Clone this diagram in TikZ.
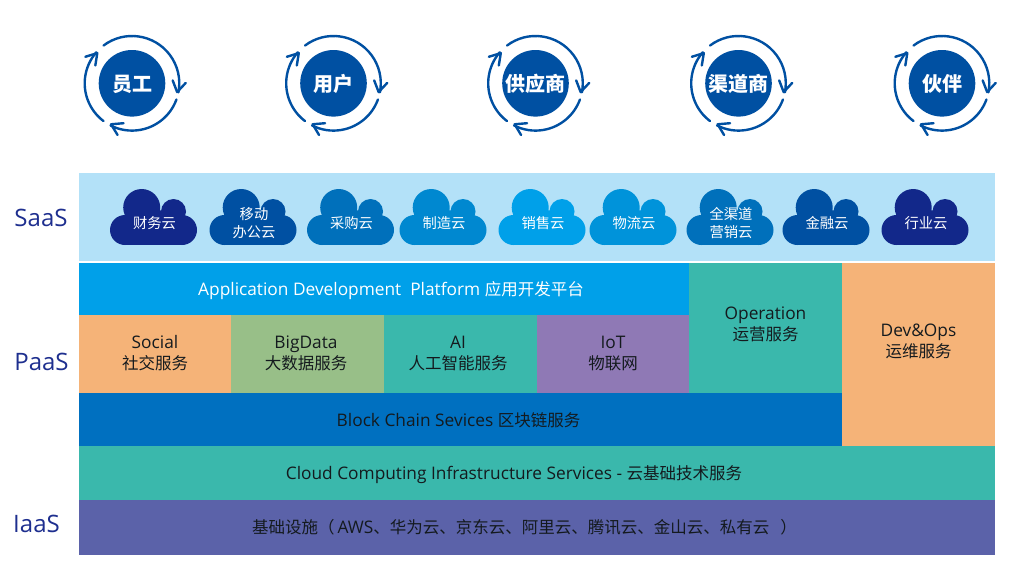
\documentclass[tikz,border=0pt]{standalone}
\usepackage{fontspec}
\setmainfont{Open Sans}
\newfontfamily\cjk{Noto Sans CJK SC}
\usetikzlibrary{calc}
\definecolor{cSky}{HTML}{B3E1F8}
\definecolor{cBright}{HTML}{00A0E9}
\definecolor{cOrange}{HTML}{F5B378}
\definecolor{cGreen}{HTML}{98BF88}
\definecolor{cTeal}{HTML}{3AB8AC}
\definecolor{cPurple}{HTML}{8F79B5}
\definecolor{cBlock}{HTML}{0070C0}
\definecolor{cIndigo}{HTML}{5B62A9}
\definecolor{cNavy}{HTML}{12288A}
\definecolor{cDeep}{HTML}{0050A2}
\definecolor{cMid}{HTML}{0070BB}
\definecolor{cLight}{HTML}{0088D0}
\definecolor{cLightB}{HTML}{0093DA}
\definecolor{cLabel}{HTML}{1E2F8F}
\definecolor{cInk}{HTML}{141A1E}
\tikzset{
  bandtext/.style={font=\fontsize{17.3}{21}\selectfont,text=cInk,align=center,inner sep=0pt},
  layerlabel/.style={font=\fontsize{24}{28}\selectfont,text=cLabel,inner sep=0pt},
  cloudtext/.style={font=\cjk\fontsize{14.3}{17.5}\selectfont,text=white,align=center,inner sep=0pt},
  hub/.style={circle,fill=cDeep,minimum size=66.6pt,inner sep=0pt},
  hubtext/.style={inner sep=0pt,text=white,font=\cjk\bfseries\fontsize{20}{22}\selectfont},
  cyc/.style={draw=cDeep,line width=2.4pt,line cap=round,line join=round}
}
\newcommand{\Z}[1]{{\cjk\fontsize{16.5}{21}\selectfont #1}}
\newcommand{\barb}[2]{%
  \draw[cyc] ($(#1)+(#2:46)+(#2+90+32:12.5)$) -- ($(#1)+(#2:46)$) -- ($(#1)+(#2:46)+(#2+90-32:12.5)$);
}
\newcommand{\hubcycle}[4]{%
  \node[hub] (#1) at (#2,-#3) {};
  \node[hubtext] (#1t) at (#2,-#3-0.7) {#4};
  \draw[cyc] ($(#1)+(127:47.3)$) arc[start angle=127,end angle=-11,radius=47.3];
  \barb{#1}{-11}
  \draw[cyc] ($(#1)+(-20:47.3)$) arc[start angle=-20,end angle=-117,radius=47.3];
  \barb{#1}{-117}
  \draw[cyc] ($(#1)+(233:47.3)$) arc[start angle=233,end angle=139,radius=47.3];
  \barb{#1}{139}
}
\newcommand{\cloudshape}[4]{%
  \begin{scope}[shift={(#2,-245)},fill=#1]
    \fill (-28.5,15) circle[radius=15];
    \fill (28.5,15) circle[radius=15];
    \fill (-11.8,37.5) circle[radius=18.5];
    \fill (20,33.5) circle[radius=12.5];
    \fill (-28.5,0) rectangle (28.5,30);
    \fill (-28,29) -- (-11.8,37) -- (20,33) -- (31,26) -- (28,15) -- (-28,15) -- cycle;
  \end{scope}
  \node[cloudtext] (#3) at (#2+1,-223) {#4};
}
\begin{document}
\begin{tikzpicture}[x=1pt,y=1pt]
\useasboundingbox (0,0) rectangle (1011,-587);
\fill[white] (0,0) rectangle (1011,-587);

\hubcycle{hubA}{132}{83.3}{员工}
\hubcycle{hubB}{333.5}{83.3}{用户}
\hubcycle{hubC}{535.5}{83.3}{供应商}
\hubcycle{hubD}{738.5}{83.3}{渠道商}
\hubcycle{hubE}{942}{83.3}{伙伴}

\fill[cSky] (79,-173) rectangle (995,-261);
\cloudshape{cNavy}{153.5}{cloudA}{财务云}
\cloudshape{cDeep}{253}{cloudB}{移动\\办公云}
\cloudshape{cMid}{350.5}{cloudC}{采购云}
\cloudshape{cLight}{443}{cloudD}{制造云}
\cloudshape{cBright}{542}{cloudE}{销售云}
\cloudshape{cLightB}{633}{cloudF}{物流云}
\cloudshape{cMid}{730}{cloudG}{全渠道\\营销云}
\cloudshape{cDeep}{826}{cloudH}{金融云}
\cloudshape{cNavy}{925}{cloudI}{行业云}

\fill[cBright] (79,-263) rectangle (689.3,-315);
\fill[cOrange] (79,-315) rectangle (231,-392.5);
\fill[cGreen] (231,-315) rectangle (384,-392.5);
\fill[cTeal] (384,-315) rectangle (536.7,-392.5);
\fill[cPurple] (536.7,-315) rectangle (689.3,-392.5);
\fill[cTeal] (689.3,-263) rectangle (842,-392.5);
\fill[cOrange] (842,-263) rectangle (995,-446);
\fill[cBlock] (79,-392.5) rectangle (842,-446);
\fill[cTeal] (79,-446) rectangle (995,-500);
\fill[cIndigo] (79,-500) rectangle (995,-555);

\node[layerlabel] (saas) at (41,-218) {SaaS};
\node[layerlabel] (paas) at (41.5,-361.5) {PaaS};
\node[layerlabel] (iaas) at (36.5,-524) {IaaS};

\node[bandtext,text=white] (app) at (391,-291) {Application Development\ \ Platform \Z{应用开发平台}};
\node[bandtext] (social) at (155,-353) {Social\\\Z{社交服务}};
\node[bandtext] (bigdata) at (306,-353) {BigData\\\Z{大数据服务}};
\node[bandtext] (ai) at (458,-353) {AI\\\Z{人工智能服务}};
\node[bandtext] (iot) at (613,-354) {IoT\\\Z{物联网}};
\node[bandtext] (oper) at (765.5,-324) {Operation\\\Z{运营服务}};
\node[bandtext] (devops) at (918.5,-341.5) {Dev\&Ops\\\Z{运维服务}};
\node[bandtext] (chain) at (458.5,-420) {Block Chain Sevices \Z{区块链服务}};
\node[bandtext] (infra) at (514,-475) {Cloud Computing Infrastructure Services - \Z{云基础技术服务}};
\node[bandtext,anchor=west] (base) at (252,-527) {\Z{基础设施（}\hspace{3pt}AWS\Z{、华为云、京东云、阿里云、腾讯云、金山云、私有云}\hspace{11pt}\Z{）}};
\end{tikzpicture}
\end{document}
